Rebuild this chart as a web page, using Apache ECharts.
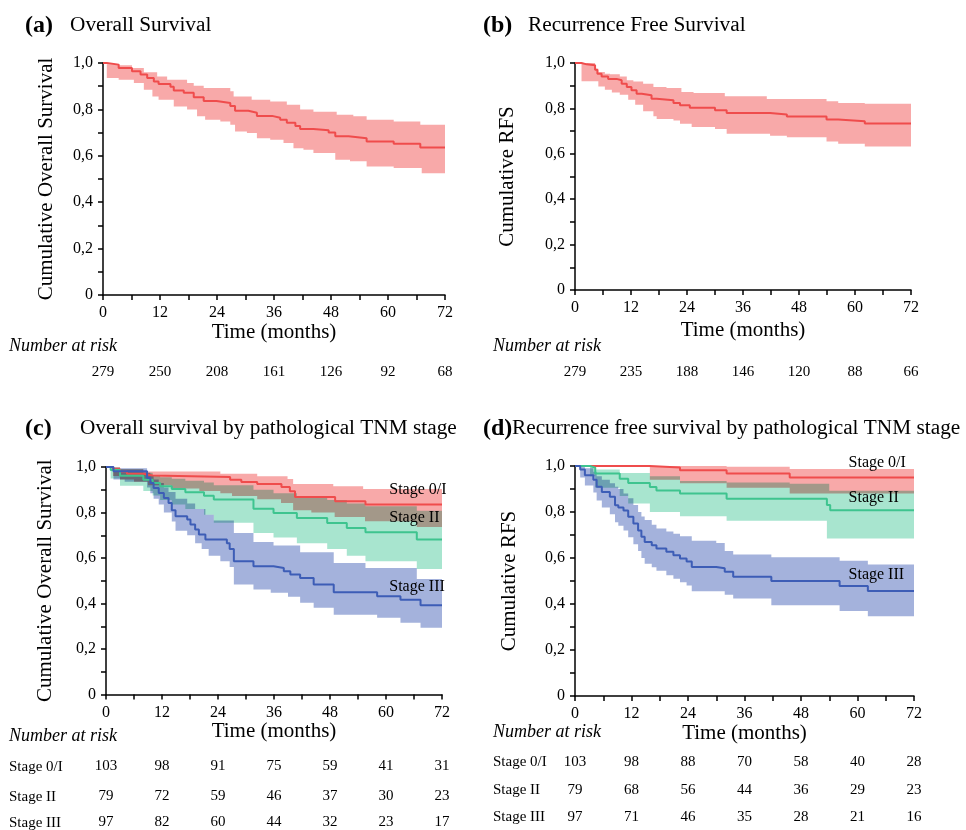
<!DOCTYPE html>
<html>
<head>
<meta charset="utf-8">
<script src="https://cdn.jsdelivr.net/npm/echarts@6.0.0/dist/echarts.min.js"></script>
<style>
  html, body { margin: 0; padding: 0; background: #fff; }
  #chart { width: 966px; height: 830px; }
</style>
</head>
<body>
<div id="chart"></div>
<script>
// Kaplan-Meier steps: [month, survival from that month on]
const osAll = [[0,1],[0.8,0.993],[3.3,0.978],[6.1,0.964],[7.9,0.95],[9.3,0.935],[10.7,0.92],[11.7,0.91],[14.2,0.898],[14.9,0.882],[17,0.872],[19.1,0.852],[21.2,0.836],[23.9,0.828],[26.8,0.815],[27.8,0.794],[30.6,0.786],[32.4,0.772],[35.6,0.764],[37.3,0.755],[38.7,0.742],[40.5,0.728],[41.5,0.716],[44.3,0.71],[47.5,0.70],[48.9,0.684],[51.7,0.676],[55.5,0.662],[61.2,0.652],[66.8,0.636],[72,0.636]];
const osAllHi = [[0,1],[0.8,0.995],[3.3,0.99],[6.1,0.978],[8.6,0.96],[11.4,0.942],[13.5,0.928],[17.7,0.914],[19.1,0.902],[21.2,0.892],[26.8,0.878],[27.5,0.856],[31.3,0.842],[35.2,0.834],[38.7,0.82],[41.5,0.80],[44.3,0.79],[49.2,0.777],[52.7,0.77],[55.5,0.755],[61.2,0.748],[66.8,0.734]];
const osAllLo = [[0,1],[0.8,0.935],[3.3,0.928],[6.5,0.914],[8.6,0.885],[10.4,0.856],[11.7,0.842],[14.9,0.813],[17.7,0.80],[19.8,0.77],[21.5,0.755],[24.7,0.748],[26.8,0.734],[27.8,0.705],[30.3,0.698],[32.4,0.676],[35.2,0.669],[38,0.655],[40.1,0.633],[42.2,0.626],[44.3,0.612],[48.9,0.583],[52,0.576],[55.5,0.554],[61.2,0.547],[67.1,0.525]];

const rfsAll = [[0,1],[1.4,0.994],[2.5,0.99],[4.3,0.97],[4.8,0.953],[5.7,0.94],[7.1,0.93],[8.9,0.924],[10,0.909],[11.1,0.894],[12.1,0.88],[13.2,0.865],[14.3,0.858],[16.4,0.843],[17.5,0.836],[21.1,0.824],[22.5,0.814],[24.6,0.803],[30,0.792],[32.5,0.78],[41.8,0.773],[45.4,0.764],[53.9,0.751],[56.4,0.743],[62.1,0.733],[72,0.733]];
const rfsAllHi = [[0,1],[4.3,0.975],[5,0.96],[6.4,0.953],[7.5,0.95],[9.6,0.94],[11.1,0.924],[12.5,0.918],[14.6,0.909],[16.8,0.894],[19.6,0.89],[22.8,0.872],[25.4,0.868],[32.1,0.853],[41.1,0.841],[53.9,0.831],[56.4,0.824],[62.1,0.821]];
const rfsAllLo = [[0,1],[1.4,0.92],[5,0.897],[6.4,0.882],[7.9,0.87],[9.6,0.86],[11.4,0.838],[12.9,0.816],[14.6,0.787],[16.8,0.765],[17.5,0.753],[21.1,0.747],[22.5,0.732],[25,0.718],[30,0.709],[32.5,0.688],[41.8,0.68],[45.4,0.673],[53.9,0.654],[56.4,0.644],[62.1,0.632]];

const osStage1 = [[0,1],[1.5,0.99],[3,0.98],[4.5,0.97],[8,0.963],[10,0.956],[26.6,0.944],[29,0.934],[32.4,0.925],[37.6,0.912],[39.4,0.893],[40.5,0.868],[49.1,0.849],[55.6,0.835],[72,0.835]];
const osStage1Hi = [[0,1],[3,0.99],[8,0.98],[24.5,0.97],[32.4,0.959],[38.9,0.947],[40.1,0.925],[48.7,0.915],[55.1,0.903]];
const osStage1Lo = [[0,1],[1.5,0.96],[3,0.945],[6,0.935],[9,0.92],[14,0.905],[20,0.895],[24.5,0.885],[27,0.872],[32.4,0.858],[37.5,0.842],[40.1,0.81],[44,0.8],[49,0.78],[55.5,0.762],[66.6,0.736]];
const osStage2 = [[0,1],[1,0.987],[3,0.962],[8,0.944],[10,0.93],[11.6,0.915],[14.1,0.903],[17,0.889],[21,0.874],[23.1,0.857],[31.6,0.816],[35.9,0.798],[40.9,0.776],[47.4,0.754],[51.6,0.732],[55.6,0.713],[66.6,0.681],[72,0.681]];
const osStage2Hi = [[0,1],[1,0.998],[3,0.99],[8,0.975],[10,0.965],[11.6,0.955],[14.1,0.948],[17,0.94],[21,0.932],[23.1,0.92],[31.6,0.9],[35.9,0.885],[40.9,0.87],[47.4,0.855],[51.6,0.84],[55.6,0.828],[66.6,0.808]];
const osStage2Lo = [[0,1],[1,0.95],[3,0.918],[8,0.895],[10,0.875],[11.6,0.855],[14.1,0.835],[17,0.815],[21,0.79],[23.1,0.755],[31.6,0.71],[35.9,0.69],[40.9,0.665],[47.4,0.64],[51.6,0.61],[55.6,0.586],[66.6,0.552]];
const osStage3 = [[0,1],[1.6,0.981],[8.8,0.952],[9.5,0.93],[10.2,0.908],[11.3,0.886],[12.4,0.864],[13.4,0.842],[14.1,0.81],[14.9,0.783],[17.4,0.769],[18.1,0.747],[19.1,0.725],[19.9,0.703],[21.3,0.681],[25.9,0.665],[26.5,0.64],[27.4,0.586],[31.6,0.564],[35.9,0.556],[38.1,0.542],[39.5,0.527],[41.6,0.512],[44.5,0.483],[48.8,0.45],[58.1,0.432],[63.1,0.417],[67.4,0.392],[72,0.392]];
const osStage3Hi = [[0,1],[1.6,0.995],[8.8,0.975],[9.5,0.96],[10.2,0.945],[11.3,0.93],[12.4,0.91],[13.4,0.89],[14.9,0.86],[17.4,0.84],[19.1,0.815],[21.3,0.79],[23.1,0.765],[27.4,0.71],[31.6,0.67],[35.9,0.655],[41.6,0.625],[48.8,0.578],[55.6,0.556],[66.6,0.508]];
const osStage3Lo = [[0,1],[1.6,0.945],[4,0.935],[8.8,0.91],[9.5,0.885],[10.2,0.86],[11.3,0.835],[12.4,0.8],[14.1,0.76],[14.9,0.72],[17.4,0.7],[19.1,0.665],[20.5,0.64],[22,0.61],[24.5,0.586],[26.5,0.56],[27.4,0.483],[31.6,0.461],[35.3,0.447],[39,0.43],[41.6,0.403],[44.5,0.381],[48.8,0.351],[58.1,0.337],[63.1,0.315],[67.4,0.293]];

const rfsStage1 = [[0,1],[15.9,0.993],[22.3,0.982],[32.2,0.967],[45.6,0.95],[72,0.95]];
const rfsStage1Hi = [[0,1],[32.2,0.997],[45.6,0.987]];
const rfsStage1Lo = [[0,1],[15.9,0.94],[22.3,0.925],[32.2,0.905],[45.6,0.88]];
const rfsStage2 = [[0,1],[3.2,0.993],[4.3,0.967],[9.5,0.945],[11.3,0.926],[15.9,0.909],[17.3,0.894],[22.3,0.88],[32.2,0.858],[53.5,0.83],[54.2,0.808],[72,0.808]];
const rfsStage2Hi = [[0,1],[4.3,0.985],[9.5,0.97],[15.9,0.955],[22.3,0.935],[32.2,0.928],[45.6,0.923],[54,0.892]];
const rfsStage2Lo = [[0,1],[3.2,0.955],[4.3,0.905],[9.5,0.87],[11.3,0.837],[15.9,0.8],[22.3,0.782],[32.2,0.762],[53.5,0.685]];
const rfsStage3 = [[0,1],[1.1,0.985],[2.1,0.96],[3.9,0.94],[4.6,0.91],[5.7,0.887],[7.4,0.866],[8.5,0.829],[9.2,0.82],[10.3,0.807],[11.3,0.779],[12.4,0.75],[13.4,0.72],[14.1,0.692],[14.8,0.67],[16.3,0.655],[17.3,0.641],[19.4,0.627],[20.9,0.612],[22.3,0.598],[23.7,0.585],[24.8,0.561],[30,0.555],[31.8,0.54],[33.6,0.518],[41.7,0.5],[56.2,0.478],[62.2,0.456],[72,0.456]];
const rfsStage3Hi = [[0,1],[2.1,0.99],[3.9,0.975],[4.6,0.955],[5.7,0.94],[7.4,0.925],[8.5,0.91],[9.2,0.9],[10.3,0.88],[11.3,0.86],[12.4,0.83],[13.4,0.8],[14.1,0.78],[14.8,0.765],[16.3,0.745],[17.3,0.728],[19.4,0.715],[20.9,0.705],[22.3,0.695],[24.8,0.675],[30,0.665],[31.8,0.63],[33.6,0.615],[41.7,0.603],[56.2,0.588],[62.2,0.572]];
const rfsStage3Lo = [[0,1],[1.1,0.95],[2.1,0.915],[3.9,0.885],[4.6,0.85],[5.7,0.82],[7.4,0.79],[8.5,0.755],[9.2,0.74],[10.3,0.72],[11.3,0.69],[12.4,0.66],[13.4,0.63],[14.1,0.6],[14.8,0.575],[16.3,0.56],[17.3,0.545],[19.4,0.525],[20.9,0.51],[22.3,0.495],[23.7,0.48],[24.8,0.455],[31.8,0.44],[33.6,0.424],[41.7,0.395],[56.2,0.37],[62.2,0.347]];

// number at risk at 0, 12, ... 72 months
const riskOS = [279,250,208,161,126,92,68];
const riskRFS = [279,235,188,146,120,88,66];
const riskOSStage1 = [103,98,91,75,59,41,31];
const riskOSStage2 = [79,72,59,46,37,30,23];
const riskOSStage3 = [97,82,60,44,32,23,17];
const riskRFSStage1 = [103,98,88,70,58,40,28];
const riskRFSStage2 = [79,68,56,44,36,29,23];
const riskRFSStage3 = [97,71,46,35,28,21,16];
const stageNames = ['Stage 0/I', 'Stage II', 'Stage III'];

const FONT = '"Liberation Serif", "Times New Roman", serif';
const RED = '#ef4c4c', RED_BAND = '#f8a9a9';
const GREEN = '#3ec48f', GREEN_BAND = '#a8e5cf';
const BLUE = '#3d5db6', BLUE_BAND = '#a4b2dc';
const T_MAX = 72;

function stepPts(arr) {
	const pts = [];
	for (let i = 0; i < arr.length; i++) {
		const next = i + 1 < arr.length ? arr[i + 1][0] : T_MAX;
		pts.push([arr[i][0], arr[i][1]], [next, arr[i][1]]);
	}
	return pts;
}

function band(hi, lo, color, idx) {
	return {
		type: 'custom',
		xAxisIndex: idx,
		yAxisIndex: idx,
		silent: true,
		z: 1,
		data: [0],
		renderItem: (params, api) => {
			const pts = stepPts(hi).concat(stepPts(lo).reverse()).map(p => api.coord(p));
			return {
				type: 'polygon',
				name: 'ciBand',
				shape: { points: pts },
				style: { fill: color, blend: 'multiply' }
			};
		}
	};
}

function curve(data, color, idx, mark) {
	const s = {
		type: 'line',
		xAxisIndex: idx,
		yAxisIndex: idx,
		step: 'end',
		showSymbol: false,
		silent: true,
		z: 3,
		data: data,
		lineStyle: { color: color, width: 2 }
	};
	if (mark) {
		s.markPoint = {
			symbol: 'circle',
			symbolSize: 0,
			silent: true,
			data: [{ coord: mark.at, label: {
				show: true, position: 'right', distance: 0, formatter: mark.text,
				offset: [0, mark.dy || 0],
				fontFamily: FONT, fontSize: 16, color: '#000'
			} }]
		};
	}
	return s;
}

const tickStyle = { color: '#000', width: 1.5 };

function timeAxis(gi, nameGap) {
	return {
		gridIndex: gi, type: 'value', position: 'bottom', min: 0, max: T_MAX, interval: 12,
		name: 'Time (months)', nameLocation: 'middle', nameGap: nameGap,
		nameTextStyle: { fontFamily: FONT, fontSize: 21, color: '#000' },
		axisLine: { show: true, onZero: false, lineStyle: tickStyle },
		axisTick: { show: true, length: 5, lineStyle: tickStyle },
		minorTick: { show: true, splitNumber: 2, length: 5, lineStyle: tickStyle },
		splitLine: { show: false },
		axisLabel: { fontFamily: FONT, fontSize: 16, color: '#000', margin: 10 }
	};
}

function riskAxis(gi, offset, counts) {
	return {
		gridIndex: gi, type: 'value', position: 'bottom', offset: offset,
		min: 0, max: T_MAX, interval: 12,
		axisLine: { show: false, onZero: false },
		axisTick: { show: false },
		splitLine: { show: false },
		axisLabel: {
			margin: 0, verticalAlign: 'middle', fontFamily: FONT, fontSize: 15, color: '#000',
			formatter: v => String(counts[Math.round(v / 12)])
		}
	};
}

function survAxis(gi, name, nameGap) {
	return {
		gridIndex: gi, type: 'value', min: 0, max: 1, interval: 0.2,
		name: name, nameLocation: 'middle', nameGap: nameGap,
		nameTextStyle: { fontFamily: FONT, fontSize: 21, color: '#000' },
		axisLine: { show: true, onZero: false, lineStyle: tickStyle },
		axisTick: { show: true, length: 5, lineStyle: tickStyle },
		minorTick: { show: true, splitNumber: 2, length: 5, lineStyle: tickStyle },
		splitLine: { show: false },
		axisLabel: {
			fontFamily: FONT, fontSize: 16, color: '#000', margin: 10,
			formatter: v => v === 0 ? '0' : v.toFixed(1).replace('.', ',')
		}
	};
}

function txt(x, y, text, size, extra) {
	return {
		type: 'text', x: x, y: y, silent: true,
		style: Object.assign({
			text: text, fontFamily: FONT, fontSize: size, fill: '#000',
			align: 'left', verticalAlign: 'middle'
		}, extra || {})
	};
}

const graphics = [
	txt(25, 26, '(a)', 24, { fontWeight: 'bold' }),
	txt(70, 25, 'Overall Survival', 21.3),
	txt(483, 26, '(b)', 24, { fontWeight: 'bold' }),
	txt(528, 25, 'Recurrence Free Survival', 21.3),
	txt(25, 429, '(c)', 24, { fontWeight: 'bold' }),
	txt(80, 428, 'Overall survival by pathological TNM stage', 21.3),
	txt(483, 429, '(d)', 24, { fontWeight: 'bold' }),
	txt(512, 428, 'Recurrence free survival by pathological TNM stage', 21.3),
	txt(9, 346, 'Number at risk', 18, { fontStyle: 'italic' }),
	txt(493, 346, 'Number at risk', 18, { fontStyle: 'italic' }),
	txt(9, 736, 'Number at risk', 18, { fontStyle: 'italic' }),
	txt(493, 732, 'Number at risk', 18, { fontStyle: 'italic' })
];
[767, 797, 823].forEach((y, i) => graphics.push(txt(9, y, stageNames[i], 15)));
[762, 790, 817].forEach((y, i) => graphics.push(txt(493, y, stageNames[i], 15)));

const option = {
	animation: false,
	backgroundColor: '#fff',
	grid: [
		{ left: 103, top: 63, width: 342, height: 232 },
		{ left: 575, top: 63, width: 336, height: 227 },
		{ left: 106, top: 467, width: 336, height: 228 },
		{ left: 575, top: 466, width: 339, height: 230 }
	],
	xAxis: [
		timeAxis(0, 23), timeAxis(1, 30), timeAxis(2, 26), timeAxis(3, 25),
		riskAxis(0, 77, riskOS),
		riskAxis(1, 82, riskRFS),
		riskAxis(2, 72, riskOSStage1), riskAxis(2, 102, riskOSStage2), riskAxis(2, 128, riskOSStage3),
		riskAxis(3, 66, riskRFSStage1), riskAxis(3, 94, riskRFSStage2), riskAxis(3, 121, riskRFSStage3)
	],
	yAxis: [
		survAxis(0, 'Cumulative Overall Survival', 46),
		survAxis(1, 'Cumulative RFS', 57),
		survAxis(2, 'Cumulative Overall Survival', 50),
		survAxis(3, 'Cumulative RFS', 55)
	],
	graphic: graphics,
	series: [
		band(osAllHi, osAllLo, RED_BAND, 0),
		band(rfsAllHi, rfsAllLo, RED_BAND, 1),
		band(osStage1Hi, osStage1Lo, RED_BAND, 2),
		band(osStage2Hi, osStage2Lo, GREEN_BAND, 2),
		band(osStage3Hi, osStage3Lo, BLUE_BAND, 2),
		band(rfsStage1Hi, rfsStage1Lo, RED_BAND, 3),
		band(rfsStage2Hi, rfsStage2Lo, GREEN_BAND, 3),
		band(rfsStage3Hi, rfsStage3Lo, BLUE_BAND, 3),
		curve(osAll, RED, 0),
		curve(rfsAll, RED, 1),
		curve(osStage1, RED, 2, { at: [60.7, 0.9], text: 'Stage 0/I' }),
		curve(osStage2, GREEN, 2, { at: [60.7, 0.777], text: 'Stage II' }),
		curve(osStage3, BLUE, 2, { at: [60.7, 0.474], text: 'Stage III' }),
		curve(rfsStage1, RED, 3, { at: [58.1, 1.0], dy: -3, text: 'Stage 0/I' }),
		curve(rfsStage2, GREEN, 3, { at: [58.1, 0.86], text: 'Stage II' }),
		curve(rfsStage3, BLUE, 3, { at: [58.1, 0.525], text: 'Stage III' })
	]
};

const chart = echarts.init(document.getElementById('chart'), null, { renderer: 'canvas' });
chart.setOption(option);

// overlapping confidence bands mix like printed inks
function blendBands() {
	const zr = chart.getZr();
	let changed = false;
	zr.storage.getDisplayList(true).forEach(el => {
		if (el.name === 'ciBand' && el.style && el.style.blend !== 'multiply') {
			el.setStyle('blend', 'multiply');
			changed = true;
		}
	});
	if (changed) zr.refreshImmediately();
}
blendBands();
chart.on('finished', blendBands);
window.addEventListener('resize', () => chart.resize());
</script>
</body>
</html>
